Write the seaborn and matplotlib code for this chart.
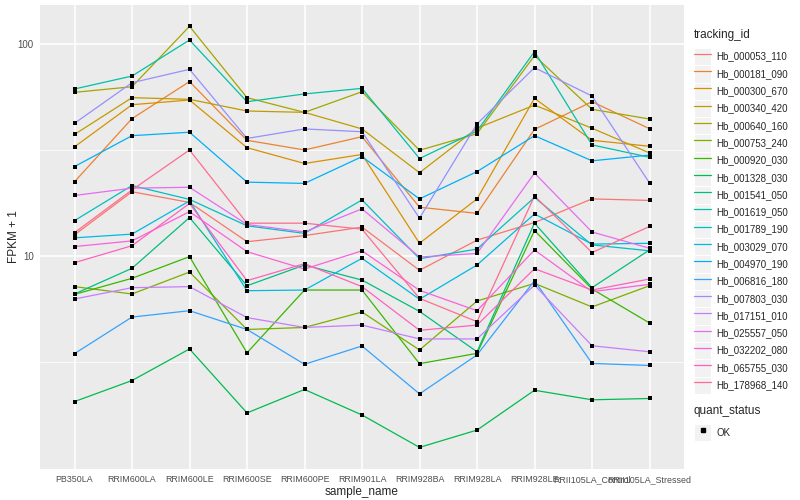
import pandas as pd
import numpy as np
import matplotlib
matplotlib.use("Agg")
import matplotlib.pyplot as plt
import seaborn as sns
from matplotlib.lines import Line2D
from matplotlib.patches import Rectangle
from matplotlib.legend_handler import HandlerLine2D

# samples on the x axis
samples = ["PB350LA", "RRIM600LA", "RRIM600LE", "RRIM600SE", "RRIM600PE", "RRIM901LA",
           "RRIM928BA", "RRIM928LA", "RRIM928LE", "RRII105LA_Control", "RRII105LA_Stressed"]

# FPKM + 1 per gene, one value per sample
Hb_000053_110 = [12.6, 20.1, 17.9, 11.7, 12.5, 13.7, 8.58, 11.9, 14.4, 18.6, 18.3]
Hb_000181_090 = [22.4, 44.4, 66.3, 35.1, 31.6, 36.5, 17.0, 15.9, 39.5, 53.3, 39.8]
Hb_000300_670 = [32.7, 51.6, 54.3, 32.4, 27.3, 30.1, 11.5, 18.6, 55.3, 35.1, 32.9]
Hb_000340_420 = [37.4, 55.7, 54.7, 48.2, 47.5, 39.7, 24.7, 40.0, 51.4, 40.0, 30.6]
Hb_000640_160 = [59.0, 62.7, 120.7, 55.7, 47.5, 59.4, 31.5, 37.7, 87.8, 49.1, 44.2]
Hb_000753_240 = [7.19, 6.64, 8.42, 4.52, 4.62, 5.46, 3.62, 6.15, 7.45, 5.77, 7.26]
Hb_000920_030 = [6.61, 7.87, 9.95, 3.51, 6.93, 6.93, 3.12, 3.49, 13.2, 7.01, 4.85]
Hb_001328_030 = [2.07, 2.60, 3.66, 1.83, 2.36, 1.79, 1.26, 1.52, 2.34, 2.11, 2.14]
Hb_001541_050 = [6.64, 8.77, 15.2, 7.26, 9.09, 7.72, 5.50, 3.55, 14.3, 7.11, 10.7]
Hb_001619_050 = [61.2, 70.4, 104.0, 53.3, 58.0, 61.6, 28.8, 38.8, 91.7, 33.4, 29.2]
Hb_001789_190 = [14.7, 21.5, 18.5, 13.9, 12.8, 18.4, 9.73, 10.8, 18.9, 11.3, 10.6]
Hb_003029_070 = [12.2, 12.7, 18.2, 6.88, 6.93, 9.77, 6.27, 9.09, 15.8, 11.4, 11.5]
Hb_004970_190 = [26.4, 36.9, 38.3, 22.3, 22.0, 29.4, 18.6, 25.0, 36.9, 28.1, 29.9]
Hb_006816_180 = [3.48, 5.17, 5.54, 4.52, 3.10, 3.78, 2.25, 3.43, 7.67, 3.13, 3.06]
Hb_007803_030 = [42.2, 65.5, 75.7, 35.8, 39.7, 38.5, 15.1, 41.9, 77.1, 56.7, 22.1]
Hb_017151_010 = [6.29, 7.11, 7.19, 5.14, 4.62, 4.74, 4.08, 4.08, 7.31, 3.79, 3.55]
Hb_025557_050 = [19.3, 20.9, 21.1, 14.1, 13.0, 16.7, 9.91, 10.3, 24.6, 13.0, 10.9]
Hb_032202_080 = [11.1, 11.8, 16.2, 10.5, 8.70, 10.6, 6.91, 5.54, 10.7, 6.81, 7.37]
Hb_065755_030 = [9.32, 11.2, 17.7, 7.67, 9.22, 7.19, 4.48, 4.74, 8.73, 6.93, 7.81]
Hb_178968_140 = [12.9, 20.5, 31.6, 14.3, 14.3, 13.4, 6.33, 4.92, 19.2, 10.4, 13.8]

genes = {
    "Hb_000053_110": Hb_000053_110, "Hb_000181_090": Hb_000181_090,
    "Hb_000300_670": Hb_000300_670, "Hb_000340_420": Hb_000340_420,
    "Hb_000640_160": Hb_000640_160, "Hb_000753_240": Hb_000753_240,
    "Hb_000920_030": Hb_000920_030, "Hb_001328_030": Hb_001328_030,
    "Hb_001541_050": Hb_001541_050, "Hb_001619_050": Hb_001619_050,
    "Hb_001789_190": Hb_001789_190, "Hb_003029_070": Hb_003029_070,
    "Hb_004970_190": Hb_004970_190, "Hb_006816_180": Hb_006816_180,
    "Hb_007803_030": Hb_007803_030, "Hb_017151_010": Hb_017151_010,
    "Hb_025557_050": Hb_025557_050, "Hb_032202_080": Hb_032202_080,
    "Hb_065755_030": Hb_065755_030, "Hb_178968_140": Hb_178968_140,
}

# ggplot default hue palette for 20 levels
colors = ["#F8766D", "#EA8331", "#D89000", "#C09B00", "#A3A500", "#7CAE00", "#39B600",
          "#00BB4E", "#00BF7D", "#00C1A3", "#00BFC4", "#00BAE0", "#00B0F6", "#35A2FF",
          "#9590FF", "#C77CFF", "#E76BF3", "#FA62DB", "#FF62BC", "#FF6C91"]

rows = []
for gid, vals in genes.items():
    for s, v in zip(samples, vals):
        rows.append({"sample_name": s, "tracking_id": gid, "fpkm1": v, "quant_status": "OK"})
df = pd.DataFrame(rows)
df["x"] = df["sample_name"].map({s: i for i, s in enumerate(samples)})

sns.set_theme(style="darkgrid")
plt.rcParams["font.family"] = ["Liberation Sans", "DejaVu Sans"]

fig = plt.figure(figsize=(8, 5), dpi=100)
ax = fig.add_axes([40 / 800, 1 - 469 / 500, 644 / 800, 464 / 500])
ax.set_facecolor("#EBEBEB")

palette = dict(zip(genes.keys(), colors))
sns.lineplot(data=df, x="x", y="fpkm1", hue="tracking_id", palette=palette,
             sort=False, legend=False, linewidth=0.9, ax=ax, zorder=3)
sns.scatterplot(data=df, x="x", y="fpkm1", color="black", marker="s", s=6,
                linewidth=0, legend=False, ax=ax, zorder=4)

ax.set_yscale("log")
ax.set_ylim(0.997, 152)
ax.set_xlim(-0.6, len(samples) - 0.4)

# grid like ggplot theme_grey
ax.grid(False)
for xv in range(len(samples)):
    ax.axvline(xv, color="white", lw=1.1, zorder=1)
for yv in [10, 100]:
    ax.axhline(yv, color="white", lw=1.1, zorder=1)
for yv in [10 ** 0.5, 10 ** 1.5]:
    ax.axhline(yv, color="white", lw=0.55, zorder=1)

ax.set_xticks(range(len(samples)))
ax.set_xticklabels(samples, fontsize=6.4, color="#4D4D4D")
ax.set_yticks([10, 100])
ax.set_yticklabels(["10", "100"], fontsize=7, color="#4D4D4D")
ax.yaxis.set_minor_locator(matplotlib.ticker.NullLocator())
ax.tick_params(axis="both", length=2.5, width=0.6, color="#333333", pad=2)
for sp in ax.spines.values():
    sp.set_visible(False)

ax.set_xlabel("sample_name", fontsize=8.5, labelpad=1)
ax.set_ylabel("FPKM + 1", fontsize=8.5)
ax.yaxis.set_label_coords(-0.031, 0.5)


class KeyHandler(HandlerLine2D):
    def create_artists(self, legend, orig_handle, xdescent, ydescent, width, height, fontsize, trans):
        bg = Rectangle((-xdescent, -ydescent), width, height, facecolor="#F2F2F2",
                       edgecolor="white", linewidth=0.8, transform=trans)
        arts = super().create_artists(legend, orig_handle, xdescent, ydescent, width, height, fontsize, trans)
        return [bg] + list(arts)


leg_kw = dict(loc="upper left", frameon=False, fontsize=7, title_fontsize=8.5,
              handlelength=1.78, handleheight=2.36, labelspacing=0, handletextpad=0.55,
              borderpad=0, borderaxespad=0, alignment="left",
              handler_map={Line2D: KeyHandler()})

handles = [Line2D([], [], color=c, lw=0.9) for c in colors]
leg1 = fig.legend(handles, list(genes.keys()), title="tracking_id",
                  bbox_to_anchor=(694 / 800, 1 - 29 / 500), **leg_kw)
leg1._legend_box.sep = 5  # gap between title and keys

ok_handle = Line2D([], [], color="black", marker="s", markersize=2.5, linestyle="none")
leg2 = fig.legend([ok_handle], ["OK"], title="quant_status",
                  bbox_to_anchor=(694 / 800, 1 - 405 / 500), **leg_kw)
leg2._legend_box.sep = 5

fig.savefig("out.png", dpi=100)
